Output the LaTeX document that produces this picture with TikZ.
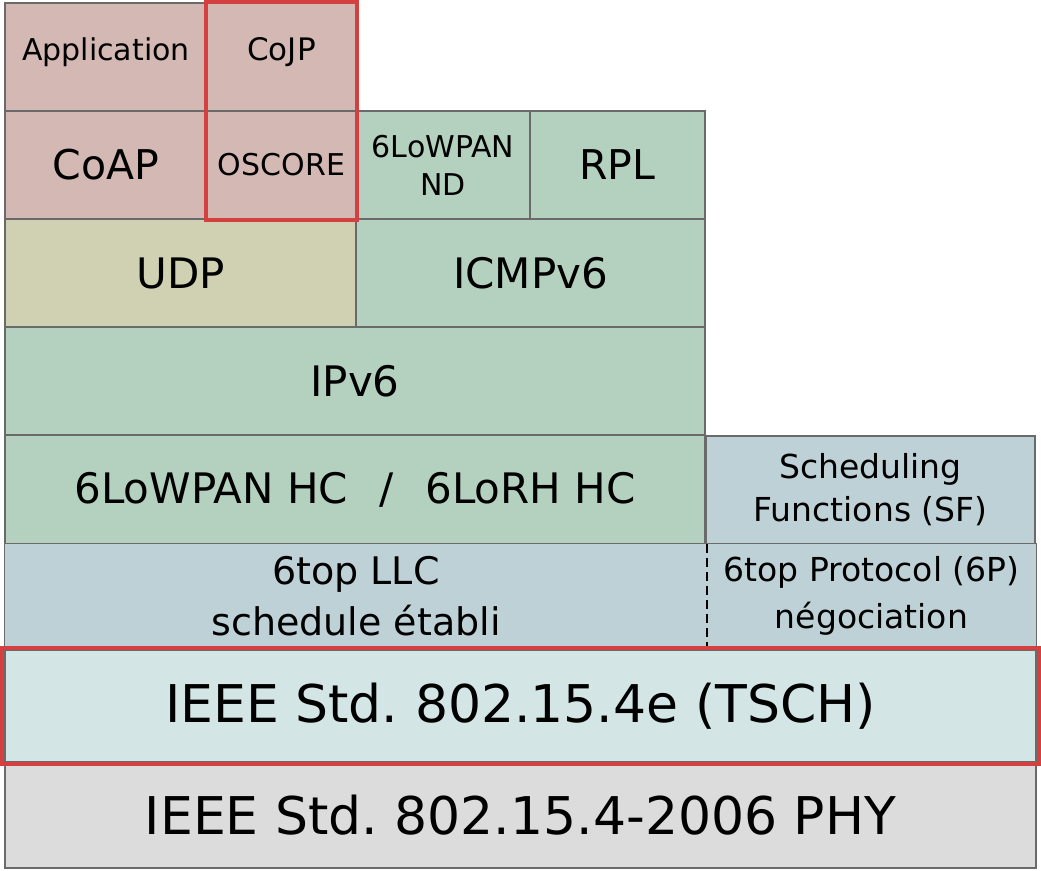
\documentclass[tikz,border=0pt]{standalone}
\usepackage{fontspec}
\setmainfont{DejaVu Sans}
\usetikzlibrary{calc}
\frenchspacing

\definecolor{appcol}{HTML}{D3B8B4}
\definecolor{netcol}{HTML}{B4D1BF}
\definecolor{udpcol}{HTML}{D0D1B3}
\definecolor{macol}{HTML}{BDD1D7}
\definecolor{tschcol}{HTML}{D3E5E5}
\definecolor{phycol}{HTML}{DCDCDC}
\definecolor{framered}{HTML}{D43F3F}
\definecolor{edgegray}{HTML}{6A6A6A}

% font size in pt with a fixed baseline skip
\newcommand{\fs}[2]{\fontsize{#1}{#2}\selectfont}

\begin{document}
\begin{tikzpicture}[x=1pt,y=1pt,
  layer/.style={draw=edgegray, line width=1.2pt, anchor=center, inner sep=0pt,
    align=center, text=black},
  fillonly/.style={anchor=center, inner sep=0pt, align=center, text=black},
  redframe/.style={draw=framered, line width=4pt}]
\useasboundingbox (0,0) rectangle (1041,-870);

% application layer
\node[layer, fill=appcol, minimum width=202, minimum height=108] (app) at (106,-57) {};
\node[font=\fs{30}{36}] (apptxt) at ([yshift=5]app.center) {Application};
\node[layer, fill=appcol, minimum width=149, minimum height=108] (cojp) at (281.5,-57) {};
\node[font=\fs{31}{36}] (cojptxt) at ([yshift=5]cojp.center) {CoJP};
\node[layer, fill=appcol, minimum width=202, minimum height=108, font=\fs{41}{48}] (coap) at (106,-165) {CoAP};
\node[layer, fill=appcol, minimum width=149, minimum height=108, font=\fs{30}{36}] (oscore) at (281.5,-165) {OSCORE};

% network control
\node[layer, fill=netcol, minimum width=174, minimum height=108, font=\fs{30}{38}] (nd) at (443,-165) {6LoWPAN\\ND};
\node[layer, fill=netcol, minimum width=175, minimum height=108, font=\fs{41}{48}] (rpl) at (617.5,-165) {RPL};

% transport
\node[layer, fill=udpcol, minimum width=351, minimum height=108, font=\fs{42}{48}] (udp) at (180.5,-273) {UDP};
\node[layer, fill=netcol, minimum width=349, minimum height=108, font=\fs{42}{48}] (icmp) at (530.5,-273) {ICMPv6};

% network
\node[layer, fill=netcol, minimum width=700, minimum height=108, font=\fs{42}{48}] (ipv6) at (355,-381) {IPv6};
\node[layer, fill=netcol, minimum width=700, minimum height=109, font=\fs{42}{48}] (hc) at (355,-489.5) {6LoWPAN HC\hspace{0.75em}/\hspace{0.75em}6LoRH HC};
\node[layer, fill=macol, minimum width=329, minimum height=108, font=\fs{33}{43}] (sf) at (870.5,-490) {Scheduling\\Functions (SF)};

% 6top sublayer
\node[fillonly, fill=macol, minimum width=702, minimum height=104, font=\fs{38}{51}] (llc) at (356,-596) {6top LLC\\schedule établi};
\node[fillonly, fill=macol, minimum width=329, minimum height=104, font=\fs{33}{47}] (sixp) at (871.5,-596) {6top Protocol (6P)\\négociation};
\draw[edgegray, line width=1.2pt] (llc.north west) rectangle (sixp.south east);
\draw[black, line width=1.5pt, dash pattern=on 9pt off 5pt] (llc.north east) -- (llc.south east);

% MAC and PHY
\node[layer, fill=tschcol, minimum width=1031, minimum height=112, font=\fs{52}{60}] (tsch) at (520.5,-706) {IEEE Std. 802.15.4e (TSCH)};
\node[layer, fill=phycol, minimum width=1031, minimum height=106, font=\fs{52}{60}] (phy) at (520.5,-815) {IEEE Std. 802.15.4-2006 PHY};

% highlighted blocks
\draw[redframe] (cojp.north west) rectangle (oscore.south east);
\draw[redframe] ($(tsch.north west)+(-2,1)$) rectangle ($(tsch.south east)+(2,-1)$);
\end{tikzpicture}
\end{document}
